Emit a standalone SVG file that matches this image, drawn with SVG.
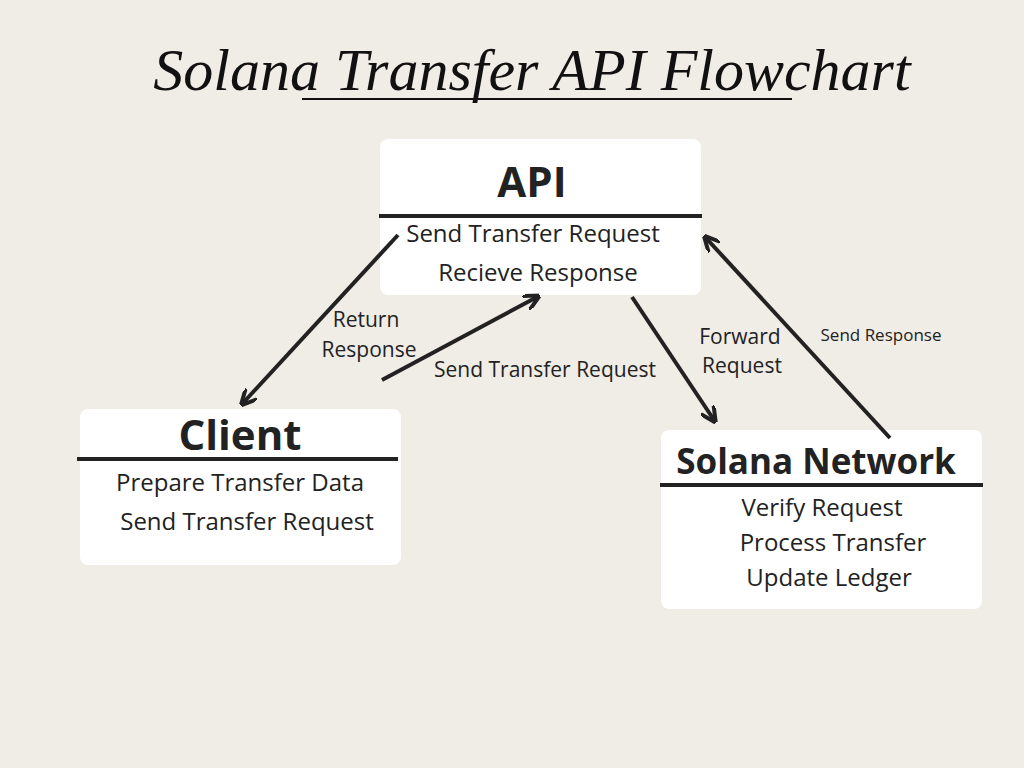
<svg xmlns="http://www.w3.org/2000/svg" width="1024" height="768" viewBox="0 0 1024 768">
<style>
.box{fill:#fff}
.sep{stroke:#222;stroke-width:4}
.h{font-family:"Open Sans","DejaVu Sans",sans-serif;font-weight:bold;fill:#222}
.t{font-family:"Open Sans","DejaVu Sans",sans-serif;font-size:24px;fill:#222}
.l{font-family:"Open Sans","DejaVu Sans",sans-serif;font-size:21px;fill:#222}
.c{stroke:#222;stroke-width:4;fill:none;marker-end:url(#a)}
</style>
<defs><marker id="a" viewBox="0 0 10 10" refX="8" refY="5" markerWidth="4" markerHeight="4" orient="auto"><path d="M0,0 L10,5 L0,10" fill="none" stroke="#222" stroke-width="2.5"/></marker></defs>
<rect width="1024" height="768" fill="#f0ece6"/>
<text x="532" y="90" text-anchor="middle" font-family="Liberation Serif,serif" font-style="italic" font-size="60" fill="#111">Solana Transfer API Flowchart</text>
<line x1="302" y1="99" x2="792" y2="99" stroke="#111" stroke-width="2"/>
<g id="api"><rect class="box" x="380" y="139" width="321" height="156" rx="8"/><line class="sep" x1="379" y1="216" x2="702" y2="216"/>
<text class="h" x="532" y="197" font-size="42" text-anchor="middle">API</text>
<text class="t" x="533" y="242" text-anchor="middle">Send Transfer Request</text><text class="t" x="538" y="281" text-anchor="middle">Recieve Response</text></g>
<g id="client"><rect class="box" x="80" y="409" width="321" height="156" rx="8"/><line class="sep" x1="77" y1="459" x2="398" y2="459"/>
<text class="h" x="240" y="450" font-size="42" text-anchor="middle">Client</text>
<text class="t" x="240" y="491" text-anchor="middle">Prepare Transfer Data</text><text class="t" x="247" y="530" text-anchor="middle">Send Transfer Request</text></g>
<g id="solana"><rect class="box" x="661" y="430" width="321" height="179" rx="8"/><line class="sep" x1="660" y1="485" x2="983" y2="485"/>
<text class="h" x="816" y="474" font-size="35" text-anchor="middle">Solana Network</text>
<text class="t" x="822" y="516" text-anchor="middle">Verify Request</text><text class="t" x="833" y="551" text-anchor="middle">Process Transfer</text><text class="t" x="829" y="586" text-anchor="middle">Update Ledger</text></g>
<g id="connectors">
<line class="c" x1="398" y1="235" x2="243" y2="403"/>
<line class="c" x1="382" y1="380" x2="537" y2="297"/>
<line class="c" x1="632" y1="297" x2="714" y2="420"/>
<line class="c" x1="890" y1="438" x2="706" y2="238"/>
<text class="l" x="366" y="327" text-anchor="middle">Return</text><text class="l" x="369" y="357" text-anchor="middle">Response</text>
<text class="l" x="545" y="377" text-anchor="middle">Send Transfer Request</text>
<text class="l" x="740" y="344" text-anchor="middle">Forward</text><text class="l" x="742" y="373" text-anchor="middle">Request</text>
<text x="881" y="341" text-anchor="middle" font-family="Open Sans,sans-serif" font-size="17" fill="#222">Send Response</text>
</g>
</svg>
